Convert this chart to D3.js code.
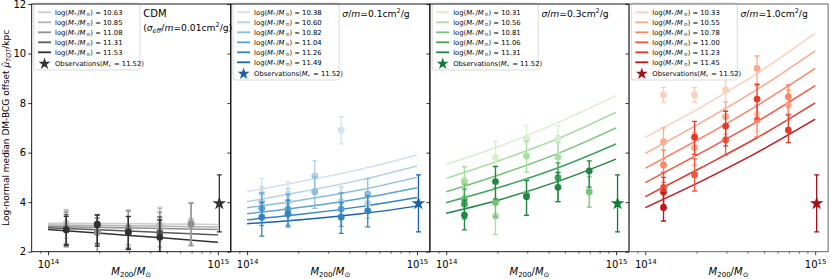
<!DOCTYPE html>
<html><head><meta charset="utf-8">
<script src="https://cdn.jsdelivr.net/npm/d3@7"></script>
<style>
body{margin:0;background:#fff;}
svg{display:block;font-family:"DejaVu Sans",sans-serif;}
</style></head><body>
<svg id="chart" width="830" height="279"></svg>
<script>
// ---------------- DATA ----------------
const massBins = [1.28e14, 1.95e14, 2.97e14, 4.55e14, 6.95e14];
const massBinsS01 = [1.22e14, 1.74e14, 2.5e14, 3.58e14, 5.13e14];
const lineMasses = [1e14, 2.14e14, 4.68e14, 1e15];
const yTicks = [2, 4, 6, 8, 10, 12];
const xMajorTicks = [1e14, 1e15];
const xMinorTicks = [9e13, 2e14, 3e14, 4e14, 5e14, 6e14, 7e14, 8e14, 9e14];
const obsMass = 1.02e15, obsValue = 3.95, obsLow = 2.8, obsHigh = 5.1, obsLabel = "11.52";

// CDM
const cdmLabels = ["10.63", "10.85", "11.08", "11.31", "11.53"];
const cdmLines = [
  [3.15, 3.14, 3.12, 3.10],
  [3.08, 3.06, 3.03, 3.00],
  [3.02, 2.98, 2.94, 2.90],
  [2.97, 2.88, 2.78, 2.68],
  [2.90, 2.73, 2.56, 2.38]];
const cdmPoints = [
  [3.15, 3.05, 3.00, 3.10, 3.25],
  [3.05, 2.75, 3.00, 3.05, 3.15],
  [2.95, 2.80, 2.95, 2.80, 3.10],
  [2.90, 3.12, 2.82, 2.75, null],
  [2.88, 3.08, 2.78, 2.58, null]];
const cdmErrLo = [
  [0.60, 0.70, 0.70, 0.70, 0.90],
  [0.70, 0.80, 0.75, 0.85, 0.90],
  [0.75, 0.85, 0.80, 0.80, 0.85],
  [0.65, 0.80, 0.70, 0.75, null],
  [0.60, 0.85, 0.70, 0.70, null]];
const cdmErrHi = [
  [0.56, 0.45, 0.70, 0.70, 0.75],
  [0.60, 0.60, 0.65, 0.70, 0.80],
  [0.65, 0.55, 0.70, 0.80, 0.85],
  [0.60, 0.38, 0.60, 0.65, null],
  [0.55, 0.40, 0.65, 0.70, null]];

// sigma/m = 0.1
const s01Labels = ["10.38", "10.60", "10.82", "11.04", "11.26", "11.49"];
const s01Lines = [
  [4.42, 4.85, 5.33, 5.90],
  [4.02, 4.43, 4.90, 5.46],
  [3.77, 4.10, 4.50, 5.00],
  [3.53, 3.80, 4.15, 4.58],
  [3.29, 3.52, 3.82, 4.19],
  [3.13, 3.30, 3.53, 3.84]];
const s01Points = [
  [4.36, 4.32, null, 6.91, null],
  [4.02, 4.00, 5.06, 4.02, 3.95],
  [null, null, 4.42, null, 4.33],
  [3.75, 3.72, null, 3.72, null],
  [3.39, 3.53, null, 3.39, 3.65],
  [null, null, null, null, null]];
const s01ErrLo = [
  [0.60, 0.60, null, 0.56, null],
  [0.65, 0.60, 0.65, 0.65, 0.60],
  [null, null, 0.67, null, 0.62],
  [0.70, 0.65, null, 0.70, null],
  [0.76, 0.53, null, 0.65, 0.65],
  [null, null, null, null, null]];
const s01ErrHi = [
  [0.60, 0.51, null, 0.54, null],
  [0.60, 0.55, 0.61, 0.60, 0.60],
  [null, null, 0.60, null, 0.62],
  [0.62, 0.60, null, 0.65, null],
  [0.60, 0.55, null, 0.60, 0.60],
  [null, null, null, null, null]];

// sigma/m = 0.3
const s03Labels = ["10.31", "10.56", "10.81", "11.06", "11.31"];
const s03Lines = [
  [5.53, 6.30, 7.25, 8.30],
  [4.96, 5.72, 6.60, 7.63],
  [4.42, 5.15, 6.00, 7.00],
  [3.98, 4.63, 5.42, 6.35],
  [3.55, 4.13, 4.87, 5.74]];
const s03Points = [
  [4.90, 5.81, 6.58, 6.58, null],
  [4.83, 3.44, 5.86, 5.81, null],
  [4.13, 3.99, 4.32, null, 4.42],
  [3.93, null, null, 4.99, null],
  [3.48, 4.83, 4.22, 4.60, 5.26]];
const s03ErrLo = [
  [0.60, 0.65, 0.60, 0.60, null],
  [0.65, 0.74, 0.65, 0.65, null],
  [0.65, 0.60, 0.85, null, 0.62],
  [0.60, null, null, 0.97, null],
  [0.60, 0.70, 0.75, 0.58, 0.65]];
const s03ErrHi = [
  [0.54, 0.63, 0.50, 0.50, null],
  [0.60, 0.60, 0.60, 0.60, null],
  [0.60, 0.60, 0.60, null, 0.60],
  [0.60, null, null, 0.60, null],
  [0.60, 0.61, 0.65, 0.60, 0.41]];

// sigma/m = 1.0
const s10Labels = ["10.33", "10.55", "10.78", "11.00", "11.23", "11.45"];
const s10Lines = [
  [6.62, 7.85, 9.25, 10.82],
  [5.97, 7.22, 8.60, 10.11],
  [5.37, 6.60, 7.95, 9.40],
  [4.79, 6.00, 7.30, 8.70],
  [4.22, 5.40, 6.65, 8.01],
  [3.78, 4.85, 6.05, 7.35]];
const s10Points = [
  [8.33, 8.33, 8.53, 7.55, null],
  [6.44, 6.20, 7.45, 9.40, 7.92],
  [5.50, null, null, 7.32, 8.26],
  [4.60, 5.10, 6.51, null, null],
  [4.40, 6.62, 7.07, 8.16, 6.91],
  [3.78, null, null, null, null]];
const s10ErrLo = [
  [0.30, 0.30, 0.70, 0.70, null],
  [0.70, 0.70, 0.70, 0.70, 0.60],
  [0.70, null, null, 0.68, 0.70],
  [0.70, 0.65, 0.61, null, null],
  [0.70, 0.70, 0.80, 0.80, 0.51],
  [0.54, null, null, null, null]];
const s10ErrHi = [
  [0.30, 0.30, 1.21, 0.60, null],
  [0.56, 0.60, 0.60, 0.50, 0.60],
  [0.60, null, null, 0.60, 0.47],
  [0.60, 0.65, 0.60, null, null],
  [0.60, 0.64, 0.60, 0.60, 0.60],
  [0.60, null, null, null, null]];

// ---------------- STYLE / LAYOUT ----------------
const greys  = ["#cdcdcd", "#b3b3b3", "#8f8f8f", "#5a5a5a", "#303030"];
const blues  = ["#d0e1f2", "#b0d2e8", "#89bedc", "#5ba3d0", "#3383be", "#1764ab"];
const greens = ["#d5efcf", "#aadda4", "#73c476", "#3ca559", "#1f8742"];
const reds   = ["#fdd0bc", "#fcaa8e", "#fc8767", "#f4573f", "#e2392c", "#c0161d"];

const panels = [
  {labels: cdmLabels, lines: cdmLines, pts: cdmPoints, lo: cdmErrLo, hi: cdmErrHi, bins: massBins, colors: greys, star: "#333333", title: "cdm", frame: "#000"},
  {labels: s01Labels, lines: s01Lines, pts: s01Points, lo: s01ErrLo, hi: s01ErrHi, bins: massBinsS01, colors: blues, star: "#1c5ea9", title: "0.1", frame: "#000"},
  {labels: s03Labels, lines: s03Lines, pts: s03Points, lo: s03ErrLo, hi: s03ErrHi, bins: massBins, colors: greens, star: "#137a35", title: "0.3", frame: "#000"},
  {labels: s10Labels, lines: s10Lines, pts: s10Points, lo: s10ErrLo, hi: s10ErrHi, bins: massBins, colors: reds, star: "#a50f15", title: "1.0", frame: "#555"}
];

const left0 = 31.7, panelW = 199.1, yTop = 4, yBot = 251.7;
const svg = d3.select("#chart");
const x = d3.scaleLog().domain([Math.pow(10, 13.904), Math.pow(10, 15.076)]).range([0, panelW]);
const y = d3.scaleLinear().domain([2, 12]).range([yBot, yTop]);

function starPath(R) {
  const r = R * 0.381966; let p = "";
  for (let k = 0; k < 10; k++) {
    const a = -Math.PI / 2 + k * Math.PI / 5;
    const rr = k % 2 === 0 ? R : r;
    p += (k === 0 ? "M" : "L") + (rr * Math.cos(a)).toFixed(2) + "," + (rr * Math.sin(a)).toFixed(2);
  }
  return p + "Z";
}

function massLabel(t, prefix, value, isObs) {
  t.append("tspan").text(prefix);
  t.append("tspan").attr("font-style", "italic").text("M");
  t.append("tspan").attr("font-size", "70%").attr("dy", 1.5).text("*\u2009");
  if (isObs) {
    t.append("tspan").attr("dy", -1.5).text(" = " + value + ")");
  } else {
    t.append("tspan").attr("dy", -1.5).text("/");
    t.append("tspan").attr("font-style", "italic").text("M");
    t.append("tspan").attr("font-size", "70%").attr("dy", 1.5).text("\u2009\u2299");
    t.append("tspan").attr("dy", -1.5).text(") = " + value);
  }
}

panels.forEach((P, i) => {
  const left = left0 + i * panelW;
  const g = svg.append("g").attr("transform", `translate(${left},0)`);
  const clipId = "clip" + i;
  svg.append("clipPath").attr("id", clipId).append("rect")
    .attr("x", 0).attr("y", yTop).attr("width", panelW).attr("height", yBot - yTop);

  // axes
  const yAx = d3.axisLeft(y).tickValues(yTicks).tickSize(3.5).tickPadding(2)
    .tickFormat(i === 0 ? d3.format("d") : "");
  const ya = g.append("g").call(yAx);
  ya.select(".domain").remove();
  ya.selectAll("text").attr("font-size", 10).attr("fill", "#000").attr("font-family", "DejaVu Sans");
  ya.selectAll("line").attr("stroke", "#000").attr("stroke-width", 0.8);

  const xMin = d3.axisBottom(x).tickValues(xMinorTicks).tickSize(2).tickFormat("");
  const xm = g.append("g").attr("transform", `translate(0,${yBot})`).call(xMin);
  xm.select(".domain").remove();
  xm.selectAll("line").attr("stroke", "#000").attr("stroke-width", 0.6);

  const xMaj = d3.axisBottom(x).tickValues(xMajorTicks).tickSize(3.5).tickPadding(3).tickFormat("");
  const xa = g.append("g").attr("transform", `translate(0,${yBot})`).call(xMaj);
  xa.select(".domain").remove();
  xa.selectAll("line").attr("stroke", "#000").attr("stroke-width", 0.8);
  xa.selectAll(".tick text").each(function(d) {
    const t = d3.select(this).attr("font-size", 10).attr("fill", "#000").attr("font-family", "DejaVu Sans").attr("dy", "0.95em");
    t.append("tspan").text("10");
    t.append("tspan").attr("font-size", 7).attr("dy", -4).text(String(Math.round(Math.log10(d))));
  });

  // x label
  const xl = g.append("text").attr("x", panelW / 2).attr("y", 275).attr("text-anchor", "middle")
    .attr("font-size", 10).attr("fill", "#000");
  xl.append("tspan").attr("font-style", "italic").text("M");
  xl.append("tspan").attr("font-size", 7).attr("dy", 2).text("200");
  xl.append("tspan").attr("dy", -2).text("/");
  xl.append("tspan").attr("font-style", "italic").text("M");
  xl.append("tspan").attr("font-size", 7).attr("dy", 2).text("\u2299");

  // data
  const d = g.append("g").attr("clip-path", `url(#${clipId})`);
  const line = d3.line().x(v => x(v[0])).y(v => y(v[1])).curve(d3.curveMonotoneX);
  P.lines.forEach((vals, s) => {
    d.append("path").attr("d", line(vals.map((v, k) => [lineMasses[k], v])))
      .attr("fill", "none").attr("stroke", P.colors[s]).attr("stroke-width", 1.5);
  });
  P.pts.forEach((vals, s) => {
    vals.forEach((v, k) => {
      if (v == null) return;
      const cx = x(P.bins[k]);
      const lo = P.lo[s][k] || 0, hi = P.hi[s][k] || 0;
      const col = P.colors[s];
      d.append("line").attr("x1", cx).attr("x2", cx).attr("y1", y(v - lo)).attr("y2", y(v + hi))
        .attr("stroke", col).attr("stroke-width", 1.3);
      [v - lo, v + hi].forEach(e => d.append("line").attr("x1", cx - 2.5).attr("x2", cx + 2.5)
        .attr("y1", y(e)).attr("y2", y(e)).attr("stroke", col).attr("stroke-width", 1.3));
      d.append("circle").attr("cx", cx).attr("cy", y(v)).attr("r", 3.4).attr("fill", col);
    });
  });
  // observation
  const ox = x(obsMass);
  d.append("line").attr("x1", ox).attr("x2", ox).attr("y1", y(obsLow)).attr("y2", y(obsHigh))
    .attr("stroke", P.star).attr("stroke-width", 1.3);
  [obsLow, obsHigh].forEach(e => d.append("line").attr("x1", ox - 2.5).attr("x2", ox + 2.5)
    .attr("y1", y(e)).attr("y2", y(e)).attr("stroke", P.star).attr("stroke-width", 1.3));
  d.append("path").attr("d", starPath(7.2)).attr("transform", `translate(${ox},${y(obsValue)})`).attr("fill", P.star);

  // legend
  const n = P.labels.length;
  const lg = g.append("g").attr("transform", "translate(2.3,0)");
  const boxH = n === 6 ? 77 : 67;
  lg.append("rect").attr("x", 0).attr("y", 3).attr("width", 106).attr("height", boxH).attr("rx", 2)
    .attr("fill", "#fff").attr("fill-opacity", 0.8).attr("stroke", "#d0d0d0").attr("stroke-width", 0.8);
  P.labels.forEach((lab, s) => {
    const ly = 12.3 + s * 10;
    lg.append("line").attr("x1", 4).attr("x2", 17).attr("y1", ly).attr("y2", ly)
      .attr("stroke", P.colors[s]).attr("stroke-width", 1.8);
    const t = lg.append("text").attr("x", 21).attr("y", ly + 2.4).attr("font-size", 6.8).attr("fill", "#000");
    massLabel(t, "log(", lab, false);
  });
  const sy = 12.3 + n * 10 + 1.5;
  lg.append("path").attr("d", starPath(6.3)).attr("transform", `translate(10.5,${sy})`).attr("fill", P.star);
  const to = lg.append("text").attr("x", 21).attr("y", sy + 2.4).attr("font-size", 6.8).attr("fill", "#000");
  massLabel(to, "Observations(", obsLabel, true);

  // title
  if (P.title === "cdm") {
    g.append("text").attr("x", 111.5).attr("y", 17).attr("font-size", 10).attr("fill", "#000").text("CDM");
    const t2 = g.append("text").attr("x", 111.5).attr("y", 30.5).attr("font-size", 9.2).attr("fill", "#000");
    t2.append("tspan").text("(");
    t2.append("tspan").attr("font-style", "italic").text("\u03c3");
    t2.append("tspan").attr("font-style", "italic").attr("font-size", 6.5).attr("dy", 2).text("eff");
    t2.append("tspan").attr("dy", -2).text("/");
    t2.append("tspan").attr("font-style", "italic").text("m");
    t2.append("tspan").text("=0.01cm");
    t2.append("tspan").attr("font-size", 6.5).attr("dy", -4).text("2");
    t2.append("tspan").attr("dy", 4).text("/g)");
  } else {
    const t = g.append("text").attr("x", 111.5).attr("y", 17).attr("font-size", 9.2).attr("fill", "#000");
    t.append("tspan").attr("font-style", "italic").text("\u03c3");
    t.append("tspan").text("/");
    t.append("tspan").attr("font-style", "italic").text("m");
    t.append("tspan").text("=" + P.title + "cm");
    t.append("tspan").attr("font-size", 6.5).attr("dy", -4).text("2");
    t.append("tspan").attr("dy", 4).text("/g");
  }

  // frame
  g.append("rect").attr("x", 0).attr("y", yTop).attr("width", panelW).attr("height", yBot - yTop)
    .attr("fill", "none").attr("stroke", P.frame).attr("stroke-width", 0.9);
});

// y label
const yl = svg.append("text").attr("transform", `translate(9,${(yTop + yBot) / 2}) rotate(-90)`)
  .attr("text-anchor", "middle").attr("font-size", 9).attr("fill", "#000");
yl.append("tspan").text("Log-normal median DM-BCG offset ");
yl.append("tspan").attr("font-style", "italic").text("\u03bc\u0302");
yl.append("tspan").attr("font-style", "italic").attr("font-size", 6.5).attr("dy", 2).text("TOT");
yl.append("tspan").attr("dy", -2).text("/kpc");
</script></body></html>
